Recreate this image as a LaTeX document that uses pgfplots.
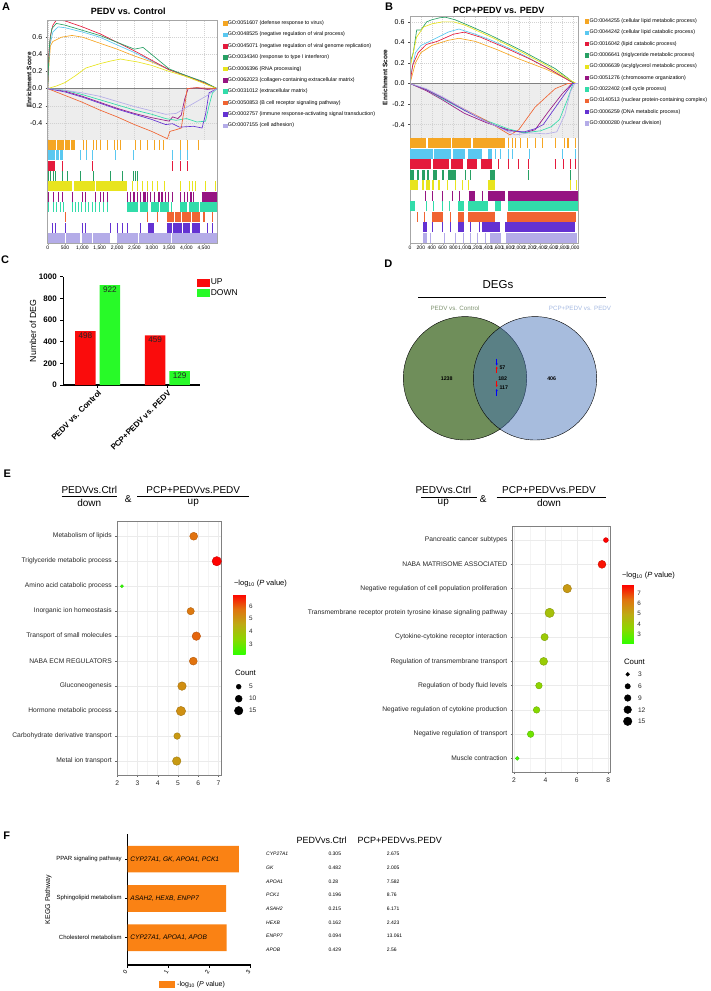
\documentclass[border=0pt]{standalone}
\usepackage{pgfplots}
\pgfplotsset{compat=1.18}
\usepackage{fontspec}
\setmainfont{Liberation Sans}
\usetikzlibrary{arrows.meta}

\newcommand\fs[1]{\fontsize{#1}{#1}\selectfont}

% GSEA palette
\definecolor{gOr}{RGB}{245,166,35}
\definecolor{gCy}{RGB}{90,200,240}
\definecolor{gRd}{RGB}{228,26,60}
\definecolor{gGn}{RGB}{40,160,100}
\definecolor{gYe}{RGB}{232,228,30}
\definecolor{gPu}{RGB}{150,20,130}
\definecolor{gTq}{RGB}{50,220,170}
\definecolor{gOR}{RGB}{240,100,50}
\definecolor{gVi}{RGB}{100,50,210}
\definecolor{gLa}{RGB}{180,172,232}
% other panels
\definecolor{cRed}{RGB}{250,12,12}
\definecolor{cGrn}{RGB}{40,250,40}
\definecolor{vGrn}{RGB}{111,142,90}
\definecolor{vBlu}{RGB}{68,113,183}
\definecolor{vTxG}{RGB}{125,145,110}
\definecolor{vTxB}{RGB}{165,185,225}
\definecolor{kOr}{RGB}{250,130,20}

\pgfplotsset{
  every axis/.append style={scale only axis, /pgf/number format/assume math mode=true},
  colormap={gr}{rgb255(0cm)=(50,255,0); rgb255(1cm)=(140,215,0); rgb255(2cm)=(190,170,20); rgb255(3cm)=(225,115,15); rgb255(4cm)=(255,0,0)},
  gsea/.style={anchor=south west, set layers, axis line style={draw=none},
    xticklabels={}, xtick style={draw=none},
    ytick={-0.4,-0.2,0,0.2,0.4,0.6}, ytick pos=left, tick align=outside,
    major tick length=2pt, ytick style={black!70, line width=0.4pt},
    yticklabel style={font=\fs{7}, /pgf/number format/fixed, /pgf/number format/fixed zerofill, /pgf/number format/precision=1},
    grid=major, grid style={dash pattern=on 1pt off 1pt, gray!35, line width=0.3pt},
    ylabel={Enrichment Score}, ylabel style={font=\bfseries\fs{6.5}, anchor=center},
    legend style={anchor=north west, draw=none, fill=none, inner sep=0pt, font=\fs{5.3}, row sep=4.8pt, nodes={inner sep=0.6pt}},
    legend cell align=left,
    legend image code/.code={\fill[##1] (0pt,-1.7pt) rectangle (3.4pt,1.7pt);},
    every axis plot/.append style={line width=0.65pt}},
  hits/.style={anchor=south west, ytick=\empty, xtick pos=bottom, tick align=outside,
    major tick length=1.5pt, xticklabel style={font=\fs{5}, inner sep=1pt}, scaled x ticks=false,
    /pgf/number format/1000 sep={,}, axis line style={gray!70, line width=0.5pt}, xtick style={gray!70}},
  hit/.style={draw=none, mark=none, error bars/.cd, x dir=plus, x explicit, error mark=none,
    error bar style={draw=#1, line width=10pt}},
  bub/.style={anchor=south west, ytick={1,...,10}, grid=both,
    major grid style={gray!16, line width=0.5pt}, minor grid style={gray!9, line width=0.35pt},
    axis line style={black!50, line width=0.5pt}, tick align=outside, major tick length=2pt,
    minor tick length=0pt, tick style={black!60, line width=0.4pt}, xtick pos=bottom, ytick pos=left,
    tick label style={font=\fs{6.7}, text=black!85}, colormap name=gr, colorbar},
  bubpts/.style={scatter, only marks, mark=*, point meta=x,
    visualization depends on={\thisrow{c} \as \cnt},
    scatter/@pre marker code/.append style={/tikz/mark size={1.1*sqrt(\cnt)}}},
}

\begin{document}
\begin{tikzpicture}

\begin{scope}[x=1pt,y=1pt]
% panel letters and titles
\node[font=\bfseries\fs{11}] at (6,-6.7) {A};
\node[font=\bfseries\fs{11}] at (389,-6.7) {B};
\node[font=\bfseries\fs{11}] at (5,-260) {C};
\node[font=\bfseries\fs{11}] at (388.3,-263.3) {D};
\node[font=\bfseries\fs{11}] at (7.3,-473.3) {E};
\node[font=\bfseries\fs{11}] at (6.7,-836) {F};
\node[font=\bfseries\fs{9}] at (128.2,-11.7) {PEDV vs. Control};
\node[font=\bfseries\fs{9}] at (498.8,-10.7) {PCP+PEDV vs. PEDV};
\end{scope}

%================ A: running enrichment score
\begin{axis}[gsea, at={(47.7pt,-140pt)}, width=169.3pt, height=120pt,
  xmin=0, xmax=4880, ymin=-0.6, ymax=0.8, xtick={0,500,...,4500},
  ylabel style={at={(axis description cs:-0.11,0.5)}},
  legend style={at={(axis description cs:1.035,1.0)}}]
\addplot[on layer=axis background, fill=gray!14, draw=none, forget plot] coordinates {(0,-0.6)(4880,-0.6)(4880,0)(0,0)};
\addplot[forget plot, gray, line width=0.9pt] coordinates {(0,0)(4880,0)};
\addplot[gOr] coordinates {(0,0)(40,0.3)(80,0.5)(150,0.55)(250,0.57)(400,0.6)(700,0.62)(1000,0.6)(1500,0.53)(2000,0.46)(2500,0.38)(3000,0.31)(3500,0.22)(4000,0.14)(4500,0.07)(4880,0)};
\addlegendentry{GO:0051607 (defense response to virus)}
\addplot[gCy] coordinates {(0,0)(30,0.3)(60,0.5)(150,0.66)(300,0.72)(500,0.71)(1000,0.66)(1500,0.6)(2000,0.51)(2500,0.42)(3000,0.32)(3500,0.22)(4000,0.15)(4500,0.07)(4880,0)};
\addlegendentry{GO:0048525 (negative regulation of viral process)}
\addplot[gRd] coordinates {(0,0)(30,0.4)(80,0.62)(150,0.74)(250,0.8)(500,0.79)(1000,0.72)(1500,0.64)(2000,0.54)(2500,0.44)(3000,0.33)(3500,0.22)(4000,0.15)(4500,0.07)(4880,0)};
\addlegendentry{GO:0045071 (negative regulation of viral genome replication)}
\addplot[gGn] coordinates {(0,0)(30,0.35)(60,0.55)(120,0.7)(250,0.76)(500,0.74)(1000,0.68)(1500,0.62)(2000,0.54)(2500,0.46)(2750,0.48)(2900,0.43)(3200,0.33)(3500,0.23)(4000,0.15)(4500,0.08)(4880,0)};
\addlegendentry{GO:0034340 (response to type I interferon)}
\addplot[gYe] coordinates {(0,0)(250,0.03)(500,0.07)(800,0.15)(1100,0.24)(1500,0.29)(1800,0.32)(2100,0.345)(2300,0.33)(2600,0.31)(3000,0.27)(3500,0.2)(4000,0.14)(4500,0.06)(4880,0)};
\addlegendentry{GO:0006396 (RNA processing)}
\addplot[gPu] coordinates {(0,0)(500,-0.03)(1000,-0.09)(1500,-0.16)(2000,-0.23)(2500,-0.29)(3000,-0.34)(3500,-0.38)(3600,-0.33)(3750,-0.35)(3850,-0.31)(3950,-0.12)(4050,0)(4300,0.01)(4600,-0.01)(4880,0)};
\addlegendentry{GO:0062023 (collagen-containing extracellular matrix)}
\addplot[gTq] coordinates {(0,0)(500,-0.02)(1000,-0.07)(1500,-0.13)(2000,-0.19)(2500,-0.25)(3000,-0.3)(3400,-0.35)(3700,-0.37)(4000,-0.35)(4300,-0.39)(4550,-0.38)(4650,-0.2)(4750,-0.05)(4880,0)};
\addlegendentry{GO:0031012 (extracellular matrix)}
\addplot[gOR] coordinates {(0,0)(500,-0.08)(1000,-0.16)(1500,-0.25)(2000,-0.33)(2500,-0.42)(3000,-0.5)(3450,-0.585)(3520,-0.5)(3700,-0.48)(3850,-0.46)(3950,-0.2)(4020,0)(4300,0.01)(4880,0)};
\addlegendentry{GO:0050853 (B cell receptor signaling pathway)}
\addplot[gVi] coordinates {(0,0)(500,-0.04)(1000,-0.1)(1500,-0.17)(2000,-0.24)(2500,-0.3)(3000,-0.36)(3400,-0.42)(3600,-0.41)(3800,-0.45)(4200,-0.44)(4450,-0.46)(4550,-0.3)(4650,-0.05)(4880,0)};
\addlegendentry{GO:0002757 (immune response-activating signal transduction)}
\addplot[gLa] coordinates {(0,0)(500,-0.02)(1000,-0.05)(1500,-0.09)(2000,-0.15)(2500,-0.21)(3000,-0.26)(3400,-0.3)(3700,-0.29)(4000,-0.22)(4300,-0.15)(4600,-0.08)(4880,0)};
\addlegendentry{GO:0007155 (cell adhesion)}
\end{axis}

% A: hit rows
\begin{axis}[hits, at={(47.7pt,-243pt)}, width=169.3pt, height=223pt,
  xmin=0, xmax=4880, ymin=0, ymax=21.65, xtick={0,500,...,4500}]
\addplot[hit=gOr] table[x error=w, row sep=\\]{x y w\\ 0 9.5 250\\ 270 9.5 200\\ 490 9.5 150\\ 660 9.5 130\\ 1010 9.5 30\\ 1110 9.5 30\\ 1300 9.5 30\\ 1390 9.5 30\\ 1510 9.5 30\\ 1700 9.5 30\\ 1900 9.5 30\\ 1990 9.5 30\\ 2070 9.5 30\\ 2520 9.5 30\\ 2660 9.5 30\\ 2850 9.5 30\\ 3060 9.5 30\\ 3220 9.5 30\\ 3310 9.5 30\\ 3820 9.5 30\\ 4010 9.5 30\\ 4320 9.5 30\\};
\addplot[hit=gCy] table[x error=w, row sep=\\]{x y w\\ 0 8.5 200\\ 230 8.5 90\\ 350 8.5 100\\ 930 8.5 30\\ 1110 8.5 30\\ 1270 8.5 30\\ 1940 8.5 30\\ 2470 8.5 30\\ 3580 8.5 30\\ 3820 8.5 30\\ 4010 8.5 30\\};
\addplot[hit=gRd] table[x error=w, row sep=\\]{x y w\\ 0 7.5 210\\ 400 7.5 30\\ 1270 7.5 30\\ 3580 7.5 30\\ 3820 7.5 30\\ 4010 7.5 30\\};
\addplot[hit=gGn] table[x error=w, row sep=\\]{x y w\\ 20 6.5 30\\ 70 6.5 30\\ 160 6.5 30\\ 210 6.5 30\\ 400 6.5 30\\ 550 6.5 30\\ 930 6.5 30\\ 1300 6.5 30\\ 1800 6.5 30\\ 2135 6.5 30\\ 2470 6.5 30\\ 2520 6.5 30\\ 2570 6.5 30\\};
\addplot[hit=gYe] table[x error=w, row sep=\\]{x y w\\ 0 5.5 700\\ 760 5.5 600\\ 1400 5.5 880\\ 2420 5.5 30\\ 2570 5.5 30\\ 2710 5.5 30\\ 2860 5.5 30\\ 3000 5.5 30\\ 3140 5.5 30\\ 3340 5.5 30\\ 3820 5.5 30\\ 4060 5.5 30\\ 4150 5.5 30\\ 4250 5.5 30\\ 4540 5.5 30\\ 4830 5.5 30\\};
\addplot[hit=gPu] table[x error=w, row sep=\\]{x y w\\ 0 4.5 30\\ 160 4.5 30\\ 300 4.5 30\\ 420 4.5 30\\ 690 4.5 30\\ 980 4.5 30\\ 1080 4.5 30\\ 1370 4.5 30\\ 1510 4.5 30\\ 1600 4.5 30\\ 1700 4.5 30\\ 2280 4.5 30\\ 2380 4.5 30\\ 2470 4.5 60\\ 2570 4.5 30\\ 2650 4.5 30\\ 2760 4.5 60\\ 2850 4.5 30\\ 2950 4.5 30\\ 3060 4.5 30\\ 3180 4.5 60\\ 3280 4.5 30\\ 3380 4.5 30\\ 3480 4.5 30\\ 3570 4.5 30\\ 3820 4.5 30\\ 3920 4.5 30\\ 4010 4.5 30\\ 4110 4.5 60\\ 4200 4.5 30\\ 4440 4.5 440\\};
\addplot[hit=gTq] table[x error=w, row sep=\\]{x y w\\ 0 3.5 30\\ 160 3.5 30\\ 250 3.5 30\\ 350 3.5 30\\ 430 3.5 30\\ 690 3.5 30\\ 780 3.5 30\\ 870 3.5 30\\ 960 3.5 30\\ 1080 3.5 30\\ 1170 3.5 30\\ 1270 3.5 30\\ 1370 3.5 30\\ 1480 3.5 30\\ 1600 3.5 30\\ 1700 3.5 30\\ 2280 3.5 320\\ 2650 3.5 250\\ 2980 3.5 220\\ 3250 3.5 250\\ 3560 3.5 30\\ 3820 3.5 200\\ 4060 3.5 300\\ 4400 3.5 480\\};
\addplot[hit=gOR] table[x error=w, row sep=\\]{x y w\\ 500 2.5 30\\ 2860 2.5 30\\ 3140 2.5 30\\ 3430 2.5 200\\ 3680 2.5 150\\ 3870 2.5 250\\ 4160 2.5 240\\ 4490 2.5 30\\ 4730 2.5 30\\};
\addplot[hit=gVi] table[x error=w, row sep=\\]{x y w\\ 115 1.5 30\\ 210 1.5 30\\ 500 1.5 30\\ 980 1.5 30\\ 1080 1.5 30\\ 1800 1.5 30\\ 1990 1.5 30\\ 2130 1.5 30\\ 2280 1.5 30\\ 2660 1.5 30\\ 2900 1.5 150\\ 3430 1.5 150\\ 3620 1.5 250\\ 3910 1.5 200\\ 4150 1.5 250\\ 4590 1.5 30\\ 4730 1.5 30\\};
\addplot[hit=gLa] table[x error=w, row sep=\\]{x y w\\ 0 0.5 500\\ 540 0.5 400\\ 980 0.5 300\\ 1320 0.5 480\\ 1990 0.5 600\\ 2640 0.5 900\\ 3580 0.5 1300\\};
\end{axis}

%================ B: running enrichment score
\begin{axis}[gsea, at={(410pt,-138pt)}, width=168pt, height=121.3pt,
  xmin=0, xmax=3090, ymin=-0.53, ymax=0.65, xtick={0,200,...,3000},
  ylabel style={at={(axis description cs:-0.149,0.5)}},
  legend style={at={(axis description cs:1.04,0.99)}}]
\addplot[on layer=axis background, fill=gray!14, draw=none, forget plot] coordinates {(0,-0.53)(3090,-0.53)(3090,0)(0,0)};
\addplot[forget plot, gray, line width=0.9pt] coordinates {(0,0)(3090,0)};
\addplot[gOr] coordinates {(0,0)(100,0.2)(200,0.3)(400,0.37)(700,0.42)(900,0.44)(1200,0.41)(1600,0.33)(2000,0.24)(2500,0.14)(2900,0.04)(3050,0)(3090,0)};
\addlegendentry{GO:0044255 (cellular lipid metabolic process)}
\addplot[gCy] coordinates {(0,0.05)(100,0.3)(200,0.37)(400,0.42)(700,0.5)(900,0.53)(1200,0.48)(1500,0.42)(2000,0.3)(2500,0.16)(2900,0.04)(3050,0)(3090,0)};
\addlegendentry{GO:0044242 (cellular lipid catabolic process)}
\addplot[gRd] coordinates {(0,0)(50,0.18)(150,0.3)(300,0.38)(500,0.41)(800,0.48)(1000,0.5)(1300,0.45)(1700,0.36)(2200,0.24)(2600,0.13)(2950,0.02)(3050,0)(3090,0)};
\addlegendentry{GO:0016042 (lipid catabolic process)}
\addplot[gGn] coordinates {(0,0.2)(60,0.3)(123,0.52)(200,0.52)(307,0.6)(400,0.62)(550,0.64)(650,0.645)(830,0.62)(1100,0.56)(1440,0.48)(2055,0.32)(2670,0.145)(2910,0.05)(3010,0)(3090,0)};
\addlegendentry{GO:0006641 (triglyceride metabolic process)}
\addplot[gYe] coordinates {(0,0.15)(120,0.45)(250,0.55)(400,0.58)(600,0.6)(800,0.6)(1000,0.57)(1500,0.45)(2000,0.32)(2500,0.18)(2900,0.05)(3050,0)(3090,0)};
\addlegendentry{GO:0006639 (acylglycerol metabolic process)}
\addplot[gPu] coordinates {(0,0)(300,-0.07)(600,-0.16)(1000,-0.29)(1400,-0.38)(1800,-0.45)(2100,-0.48)(2300,-0.45)(2550,-0.27)(2800,-0.1)(2980,0)(3090,0)};
\addlegendentry{GO:0051276 (chromosome organization)}
\addplot[gTq] coordinates {(0,0)(300,-0.06)(600,-0.15)(1000,-0.26)(1400,-0.36)(1800,-0.44)(2100,-0.48)(2400,-0.46)(2600,-0.42)(2750,-0.35)(2900,-0.15)(3000,0)(3090,0)};
\addlegendentry{GO:0022402 (cell cycle process)}
\addplot[gOR] coordinates {(0,0)(300,-0.06)(600,-0.14)(1000,-0.25)(1400,-0.36)(1840,-0.5)(2000,-0.45)(2300,-0.23)(2670,-0.05)(2900,0)(3090,0)};
\addlegendentry{GO:0140513 (nuclear protein-containing complex)}
\addplot[gVi] coordinates {(0,0)(300,-0.06)(600,-0.14)(1000,-0.26)(1400,-0.37)(1800,-0.46)(2100,-0.47)(2300,-0.44)(2450,-0.4)(2650,-0.25)(2850,-0.1)(2990,0)(3090,0)};
\addlegendentry{GO:0006259 (DNA metabolic process)}
\addplot[gLa] coordinates {(0,0)(300,-0.05)(600,-0.13)(1000,-0.25)(1400,-0.37)(1930,-0.5)(2200,-0.48)(2500,-0.49)(2700,-0.47)(2850,-0.3)(2950,-0.08)(3030,0)(3090,0)};
\addlegendentry{GO:0000280 (nuclear division)}
\end{axis}

% B: hit rows
\begin{axis}[hits, at={(410pt,-243pt)}, width=168pt, height=226.3pt,
  xmin=0, xmax=3090, ymin=0, ymax=21.55, xtick={0,200,...,3000}]
\addplot[hit=gOr] table[x error=w, row sep=\\]{x y w\\ 0 9.5 300\\ 330 9.5 420\\ 780 9.5 340\\ 1150 9.5 600\\ 1810 9.5 18\\ 1870 9.5 18\\ 1930 9.5 18\\ 2025 9.5 18\\ 2150 9.5 18\\ 2300 9.5 18\\ 2420 9.5 18\\ 2670 9.5 18\\ 2830 9.5 18\\ 2880 9.5 18\\ 2910 9.5 18\\ 3030 9.5 18\\};
\addplot[hit=gCy] table[x error=w, row sep=\\]{x y w\\ 0 8.5 420\\ 450 8.5 300\\ 800 8.5 210\\ 1070 8.5 250\\ 1440 8.5 60\\ 1560 8.5 18\\ 1650 8.5 18\\ 1800 8.5 18\\ 1880 8.5 18\\ 2180 8.5 18\\ 2790 8.5 18\\ 3030 8.5 18\\};
\addplot[hit=gRd] table[x error=w, row sep=\\]{x y w\\ 0 7.5 380\\ 420 7.5 300\\ 760 7.5 220\\ 1040 7.5 200\\ 1300 7.5 200\\ 1620 7.5 18\\ 1800 7.5 18\\ 1980 7.5 18\\ 2170 7.5 18\\ 2660 7.5 18\\ 2810 7.5 18\\ 2940 7.5 18\\ 3030 7.5 18\\};
\addplot[hit=gGn] table[x error=w, row sep=\\]{x y w\\ 0 6.5 80\\ 120 6.5 40\\ 220 6.5 60\\ 320 6.5 30\\ 420 6.5 80\\ 580 6.5 40\\ 700 6.5 150\\ 1010 6.5 18\\ 1100 6.5 18\\ 1470 6.5 90\\ 2170 6.5 18\\ 2940 6.5 18\\};
\addplot[hit=gYe] table[x error=w, row sep=\\]{x y w\\ 0 5.5 150\\ 220 5.5 40\\ 300 5.5 60\\ 400 5.5 50\\ 520 5.5 40\\ 680 5.5 18\\ 830 5.5 18\\ 960 5.5 18\\ 1070 5.5 18\\ 1440 5.5 120\\ 2940 5.5 18\\ 3050 5.5 18\\};
\addplot[hit=gPu] table[x error=w, row sep=\\]{x y w\\ 280 4.5 18\\ 400 4.5 18\\ 580 4.5 18\\ 770 4.5 18\\ 900 4.5 18\\ 1080 4.5 120\\ 1320 4.5 18\\ 1440 4.5 300\\ 1800 4.5 1290\\};
\addplot[hit=gTq] table[x error=w, row sep=\\]{x y w\\ 0 3.5 90\\ 300 3.5 18\\ 430 3.5 18\\ 580 3.5 18\\ 710 3.5 18\\ 890 3.5 100\\ 1070 3.5 360\\ 1560 3.5 120\\ 1800 3.5 1290\\};
\addplot[hit=gOR] table[x error=w, row sep=\\]{x y w\\ 120 2.5 18\\ 250 2.5 18\\ 400 2.5 200\\ 740 2.5 18\\ 890 2.5 100\\ 1070 2.5 500\\ 1780 2.5 1280\\};
\addplot[hit=gVi] table[x error=w, row sep=\\]{x y w\\ 245 1.5 60\\ 400 1.5 18\\ 580 1.5 18\\ 740 1.5 18\\ 890 1.5 100\\ 1100 1.5 18\\ 1260 1.5 18\\ 1320 1.5 330\\ 1750 1.5 1290\\};
\addplot[hit=gLa] table[x error=w, row sep=\\]{x y w\\ 245 0.5 60\\ 370 0.5 18\\ 620 0.5 18\\ 830 0.5 18\\ 980 0.5 18\\ 1100 0.5 18\\ 1230 0.5 18\\ 1380 0.5 18\\ 1470 0.5 200\\ 1770 0.5 1300\\};
\end{axis}

%================ C: number of DEG
\begin{axis}[at={(63.3pt,-385pt)}, anchor=south west, width=136.7pt, height=108.3pt,
  ybar=4pt, bar width=20.5pt, xmin=-0.494, xmax=1.468, ymin=0, ymax=1000,
  axis lines*=left, axis line style={line width=1.1pt},
  xtick={0,1}, xticklabels={PEDV vs. Control, PCP+PEDV vs. PEDV},
  xticklabel style={rotate=45, anchor=north east, font=\bfseries\fs{8}, inner sep=1pt},
  ytick={0,200,...,1000}, yticklabel style={font=\bfseries\fs{8}},
  /pgf/number format/1000 sep={},
  tick align=outside, major tick length=3pt, tick style={black, line width=0.9pt},
  ylabel={Number of DEG}, ylabel style={font=\fs{8.8}, at={(axis description cs:-0.222,0.5)}, anchor=center},
  nodes near coords, nodes near coords style={anchor=north, font=\fs{8.2}, inner sep=1.2pt, text=black!85},
  legend style={at={(axis description cs:0.976,0.985)}, anchor=north west, draw=none, fill=none, inner sep=0pt, font=\fs{8.5}, row sep=1.5pt, nodes={inner sep=0.6pt}},
  legend cell align=left,
  legend image code/.code={\fill[#1] (0pt,-4pt) rectangle (13.3pt,4pt);}]
\addplot[fill=cRed, draw=none] coordinates {(0,498)(1,459)};
\addlegendentry{UP}
\addplot[fill=cGrn, draw=none] coordinates {(0,922)(1,129)};
\addlegendentry{DOWN}
\end{axis}

%================ E: bubble plots
\begin{axis}[bub, at={(117.3pt,-775pt)}, width=103.7pt, height=254pt,
  xmin=2, xmax=7.13, ymin=0.44, ymax=10.61, xtick={2,...,7}, minor x tick num=1,
  yticklabels={Metal ion transport, Carbohydrate derivative transport, Hormone metabolic process, Gluconeogenesis, NABA ECM REGULATORS, Transport of small molecules, Inorganic ion homeostasis, Amino acid catabolic process, Triglyceride metabolic process, Metabolism of lipids},
  point meta min=2.24, point meta max=6.94,
  colorbar style={at={(parent axis.north east)}, anchor=north west, xshift=3.7pt, yshift=-73pt,
    width=12.3pt, height=60pt, ytick={3,4,5,6}, axis line style={draw=none}, ytick style={draw=none},
    yticklabel style={font=\fs{6.3}, text=black!85}}]
\addplot[bubpts] table[row sep=\\]{x y c\\ 5.78 10 13\\ 6.92 9 18\\ 2.23 8 2\\ 5.63 7 11\\ 5.91 6 15\\ 5.76 5 13\\ 5.20 4 15\\ 5.15 3 18\\ 4.96 2 9\\ 4.94 1 15\\};
\end{axis}

\begin{axis}[bub, at={(512.7pt,-772pt)}, width=97.6pt, height=246pt,
  xmin=1.92, xmax=8.13, ymin=0.44, ymax=10.58, xtick={2,4,6,8}, minor x tick num=1,
  yticklabels={Muscle contraction, Negative regulation of transport, Negative regulation of cytokine production, Regulation of body fluid levels, Regulation of transmembrane transport, Cytokine{-}cytokine receptor interaction, Transmembrane receptor protein tyrosine kinase signaling pathway, Negative regulation of cell population proliferation, NABA MATRISOME ASSOCIATED, Pancreatic cancer subtypes},
  point meta min=2.09, point meta max=7.84,
  colorbar style={at={(parent axis.north east)}, anchor=north west, xshift=3.4pt, yshift=-58.7pt,
    width=11.6pt, height=58.6pt, ytick={3,4,5,6,7}, axis line style={draw=none}, ytick style={draw=none},
    yticklabel style={font=\fs{6.3}, text=black!85}}]
\addplot[bubpts] table[row sep=\\]{x y c\\ 7.85 10 5\\ 7.60 9 13\\ 5.39 8 15\\ 4.27 7 18\\ 3.95 6 11\\ 3.89 5 13\\ 3.59 4 9\\ 3.44 3 9\\ 3.06 2 9\\ 2.21 1 3\\};
\end{axis}

%================ F: KEGG pathways
\begin{axis}[at={(127.7pt,-965pt)}, anchor=south west, width=123pt, height=131pt,
  xbar, bar width=26.7pt, xmin=0, xmax=3, ymin=0.305, ymax=3.64,
  axis lines*=left, axis line style={line width=1.1pt},
  ytick={1,2,3}, yticklabels={Cholesterol metabolism, Sphingolipid metabolism, PPAR signaling pathway},
  yticklabel style={font=\fs{6}}, xtick={0,1,2,3},
  xticklabel style={font=\fs{6}, rotate=60, anchor=east},
  tick align=outside, major tick length=2.5pt, tick style={black, line width=0.8pt},
  ylabel={KEGG Pathway}, ylabel style={font=\fs{7}, at={(axis description cs:-0.645,0.5)}, anchor=center},
  legend style={at={(axis description cs:0.249,-0.149)}, anchor=west, draw=none, fill=none, inner sep=0pt, font=\fs{7}},
  legend image code/.code={\fill[#1] (0pt,-3.8pt) rectangle (16.7pt,3.8pt);}]
\addplot[fill=kOr, draw=none] coordinates {(2.71,3)(2.40,2)(2.41,1)};
\addlegendentry{-log\textsubscript{10} (\textit{P} value)}
\node[anchor=west, inner sep=0pt, font=\itshape\fs{6.6}] at (axis cs:0.06,3) {CYP27A1, GK, APOA1, PCK1};
\node[anchor=west, inner sep=0pt, font=\itshape\fs{6.6}] at (axis cs:0.06,2) {ASAH2, HEXB, ENPP7};
\node[anchor=west, inner sep=0pt, font=\itshape\fs{6.6}] at (axis cs:0.06,1) {CYP27A1, APOA1, APOB};
\end{axis}

%================ overlay in picture pixels: Venn circles and size keys
\begin{axis}[at={(0pt,-991pt)}, anchor=south west, width=710pt, height=991pt,
  xmin=0, xmax=710, ymin=-991, ymax=0, hide axis, clip=false]
\addplot[only marks, mark=*, mark size=61.7pt, mark options={fill=vGrn, draw=none}] coordinates {(465,-378.3)};
\addplot[only marks, mark=*, mark size=61.7pt, mark options={fill=vBlu, fill opacity=0.47, draw=none}] coordinates {(535,-378.3)};
\addplot[only marks, mark=*, black, mark size=2.46pt] coordinates {(238.7,-686.7)};
\addplot[only marks, mark=*, black, mark size=3.48pt] coordinates {(238.7,-698.7)};
\addplot[only marks, mark=*, black, mark size=4.26pt] coordinates {(238.7,-710.7)};
\addplot[only marks, mark=*, black, mark size=1.91pt] coordinates {(627.7,-674.3)};
\addplot[only marks, mark=*, black, mark size=2.69pt] coordinates {(627.7,-686.3)};
\addplot[only marks, mark=*, black, mark size=3.30pt] coordinates {(627.7,-698)};
\addplot[only marks, mark=*, black, mark size=3.81pt] coordinates {(627.7,-709.7)};
\addplot[only marks, mark=*, black, mark size=4.26pt] coordinates {(627.7,-721.3)};
\end{axis}

\begin{scope}[x=1pt,y=1pt]
% D: Venn labels, numbers and arrows
\node[font=\fs{11.5}] at (498,-285) {DEGs};
\draw[line width=0.6pt] (418,-297) -- (606,-297);
\node[font=\fs{6.2}, text=vTxG] at (455,-308) {PEDV vs. Control};
\node[font=\fs{6.2}, text=vTxB] at (580,-308) {PCP+PEDV vs. PEDV};
\node[font=\bfseries\fs{5.3}] at (446.7,-378.3) {1238};
\node[font=\bfseries\fs{5.3}] at (551.7,-378.3) {406};
\node[font=\bfseries\fs{5.3}] at (502.7,-378.3) {182};
\node[font=\bfseries\fs{5.3}, anchor=west, inner sep=0pt] at (499.3,-367.7) {57};
\node[font=\bfseries\fs{5.3}, anchor=west, inner sep=0pt] at (499.3,-387.7) {117};
\draw[-{Stealth[length=2.2pt,width=2.2pt]}, blue, line width=0.7pt] (496.7,-358.5) -- (496.7,-365.5);
\draw[-{Stealth[length=2.2pt,width=2.2pt]}, red, line width=0.7pt] (496.7,-372.5) -- (496.7,-366.5);
\draw[-{Stealth[length=2.2pt,width=2.2pt]}, red, line width=0.7pt] (496.7,-380.5) -- (496.7,-387);
\draw[-{Stealth[length=2.2pt,width=2.2pt]}, blue, line width=0.7pt] (496.7,-395.5) -- (496.7,-389);

% E: titles and legend labels
\node[font=\fs{10}] at (89.3,-490) {PEDVvs.Ctrl};
\draw[line width=0.7pt] (61.7,-496.7) -- (116.7,-496.7);
\node[font=\fs{10}] at (89.3,-502.5) {down};
\node[font=\fs{10}] at (128.3,-499) {\&};
\node[font=\fs{10}] at (193.3,-490) {PCP+PEDVvs.PEDV};
\draw[line width=0.7pt] (137,-496.7) -- (249,-496.7);
\node[font=\fs{10}] at (193.3,-502.5) {up};
\node[font=\fs{10}] at (443.3,-490) {PEDVvs.Ctrl};
\draw[line width=0.7pt] (421,-497.3) -- (476.7,-497.3);
\node[font=\fs{10}] at (443.3,-502.5) {up};
\node[font=\fs{10}] at (483.3,-499) {\&};
\node[font=\fs{10}] at (549,-490) {PCP+PEDVvs.PEDV};
\draw[line width=0.7pt] (496.7,-497.3) -- (605.7,-497.3);
\node[font=\fs{10}] at (549,-502.5) {down};

\node[anchor=west, font=\fs{7.5}] at (230.5,-583.7) {−log\textsubscript{10} (\textit{P} value)};
\node[anchor=west, font=\fs{7.5}] at (618.5,-575.7) {−log\textsubscript{10} (\textit{P} value)};
\node[anchor=west, font=\fs{7.8}] at (231.5,-673.3) {Count};
\node[anchor=west, font=\fs{7.8}] at (620.5,-661.7) {Count};
\foreach \v/\yy in {5/686.7, 10/698.7, 15/710.7}
  \node[anchor=west, font=\fs{6.6}, text=black!85] at (245.5,-\yy) {\v};
\foreach \v/\yy in {3/674.3, 6/686.3, 9/698, 12/709.7, 15/721.3}
  \node[anchor=west, font=\fs{6.6}, text=black!85] at (634.5,-\yy) {\v};

% F: table
\node[font=\fs{9}] at (321.7,-840) {PEDVvs.Ctrl};
\node[font=\fs{9}, anchor=west] at (354,-840) {PCP+PEDVvs.PEDV};
\foreach \g/\a/\b [count=\i from 0] in {CYP27A1/0.305/2.675, GK/0.482/2.005, APOA1/0.28/7.582, PCK1/0.196/8.76, ASAH2/0.215/6.171, HEXB/0.162/2.423, ENPP7/0.094/13.061, APOB/0.429/2.56}{
  \node[anchor=west, font=\itshape\fs{5}] at (262.7,{-854-13.67*\i}) {\g};
  \node[anchor=west, font=\fs{5}] at (325,{-854-13.67*\i}) {\a};
  \node[anchor=west, font=\fs{5}] at (383.3,{-854-13.67*\i}) {\b};
}
\end{scope}

\pgfresetboundingbox
\path[use as bounding box] (0pt,0pt) rectangle (710pt,-991pt);
\end{tikzpicture}
\end{document}
